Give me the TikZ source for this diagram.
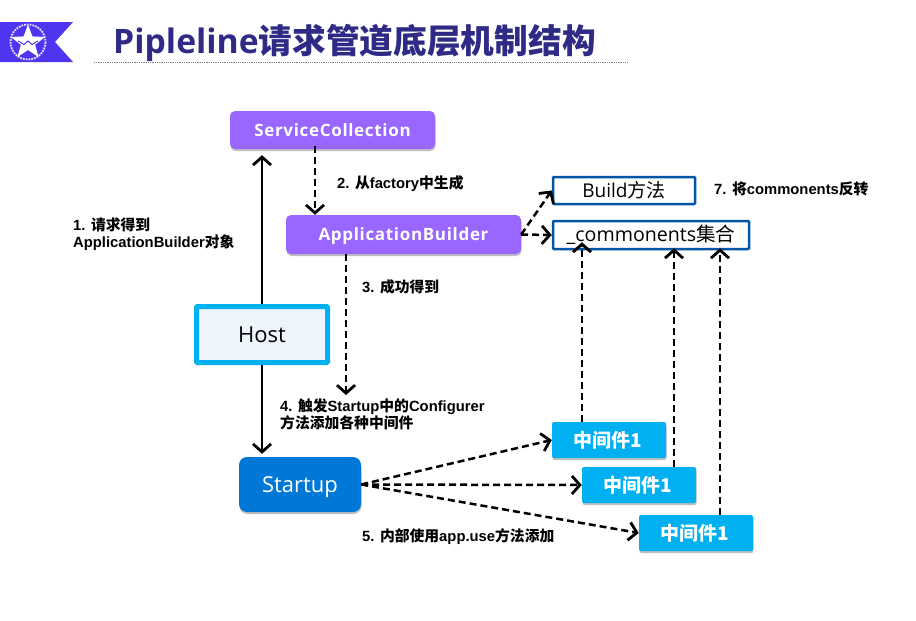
\documentclass[tikz,border=0pt]{standalone}
\usepackage{fontspec}
\setmainfont{Liberation Sans}
\newfontfamily\zhfont{Noto Sans CJK SC}
\newfontfamily\uifont{Open Sans}
\newfontfamily\spacedfont[LetterSpace=4]{Open Sans}
\usetikzlibrary{positioning,calc}
\usetikzlibrary{arrows.meta,shadows,shapes.geometric}

\definecolor{titleblue}{HTML}{2E2A86}
\definecolor{bannerpurple}{HTML}{4F35F0}
\definecolor{boxpurple}{HTML}{9966FF}
\definecolor{boxcyan}{HTML}{00B0F0}
\definecolor{boxblue}{HTML}{0078D7}
\definecolor{edgeblue}{HTML}{0055A5}
\definecolor{hostfill}{HTML}{EEF4FB}

\tikzset{
  softshadow/.style={drop shadow={shadow xshift=0.5pt,shadow yshift=-2pt,opacity=0.25,fill=black}},
  purplebox/.style={fill=boxpurple,rounded corners=5pt,softshadow,text=white,inner sep=0pt,
    text height=12.2pt,text depth=0pt,font=\spacedfont\bfseries\fontsize{17}{19}\selectfont},
  middlebox/.style={fill=boxcyan,rounded corners=2pt,softshadow,text=white,inner sep=0pt,
    minimum width=114pt,minimum height=36pt,font=\zhfont\bfseries\fontsize{19}{21}\selectfont},
  outlinebox/.style={draw=edgeblue,line width=2.5pt,fill=white,rounded corners=1pt,inner sep=0pt},
  steplabel/.style={anchor=west,align=left,inner sep=0pt,font=\bfseries\fontsize{14.8}{17}\selectfont},
  solidarrow/.style={line width=2.5pt,-{Straight Barb[length=8pt,width=18pt,line width=2.8pt]}},
  dasharrow/.style={solidarrow,dash pattern=on 7pt off 4pt}
}

\begin{document}
\begin{tikzpicture}[x=1pt,y=-1pt]
  \useasboundingbox (0,0) rectangle (916,621);

  % Banner with logo
  \fill[bannerpurple] (0,22) -- (73,22) -- (55,42) -- (73,62) -- (0,62) -- cycle;
  \draw[white!85!bannerpurple,line width=1.8pt,densely dotted] (28,42) circle (17.5);
  \node[star,star points=5,star point ratio=2.4,fill=white,minimum size=36pt,inner sep=0pt] (logostar) at (28,42.5) {};
  \draw[bannerpurple,line width=1pt] (18,41) -- (24,44.5) -- (28,41) -- (32,44.5) -- (38,41);

  % Title
  \node[anchor=west,inner sep=0pt,text=titleblue,font=\uifont\bfseries\fontsize{33.7}{38}\selectfont] (titletext) at (113,43)
    {Pipleline{\zhfont 请求管道底层机制结构}};
  \coordinate (ruleleft) at (94,62);
  \coordinate (ruleright) at (628,62);
  \draw[gray,densely dotted,line width=0.8pt] (ruleleft) -- (ruleright);

  % Boxes
  \node[purplebox,minimum width=205pt,minimum height=38pt] (collection) at (332.5,130) {ServiceCollection};
  \node[purplebox,minimum width=235pt,minimum height=39pt] (builder) at (403.5,234.5) {ApplicationBuilder};
  \node[outlinebox,minimum width=142pt,minimum height=27pt,font=\uifont\fontsize{19}{21}\selectfont] (buildm) at (624,190.5) {Build{\zhfont 方法}};
  \node[outlinebox,minimum width=196pt,minimum height=28pt,font=\uifont\fontsize{19.6}{21}\selectfont] (commonents) at (651,235) {\_commonents{\zhfont 集合}};
  \node[draw=boxcyan,line width=5pt,fill=hostfill,rounded corners=1pt,inner sep=0pt,minimum width=131pt,minimum height=56pt,
    text height=15.8pt,text depth=0pt,font=\uifont\fontsize{22}{24}\selectfont] (host) at (262,334.5) {Host};
  \node[fill=boxblue,rounded corners=8pt,softshadow,text=white,inner sep=0pt,minimum width=122pt,minimum height=55pt,
    text height=15.8pt,text depth=0pt,font=\uifont\fontsize{22}{24}\selectfont] (startup) at (300,484.5) {Startup};
  \node[middlebox] (middlea) at (609,440) {\hspace*{-3pt}中间件1};
  \node[middlebox] (middleb) at (639,485) {\hspace*{-3pt}中间件1};
  \node[middlebox] (middlec) at (696,533) {\hspace*{-3pt}中间件1};

  % Arrows
  \draw[solidarrow] (host.north) -- ($(host.north |- collection.south)+(0,6)$);
  \draw[solidarrow] (host.south) -- ($(host.south |- startup.north)+(0,-3)$);
  \draw[dasharrow] ([xshift=-17.5pt,yshift=3pt]collection.south) -- ([xshift=-88.5pt]builder.north);
  \coordinate (builderend) at (346,395);
  \draw[dasharrow] (builder.south -| builderend) -- (builderend);
  \draw[dasharrow] (builder.east) -- (buildm.west);
  \draw[dasharrow] (builder.east) -- (commonents.west);
  \draw[dasharrow] (startup.east) -- (middlea.west);
  \draw[dasharrow] (startup.east) -- (middleb.west);
  \draw[dasharrow] (startup.east) -- (middlec.west);
  \draw[dasharrow] ([xshift=-27pt]middlea.north) -- ([xshift=-69pt,yshift=8pt]commonents.south);
  \draw[dasharrow] ([xshift=35pt]middleb.north) -- ([xshift=23pt,yshift=2pt]commonents.south);
  \draw[dasharrow] ([xshift=24pt]middlec.north) -- ([xshift=69pt,yshift=2pt]commonents.south);

  % Labels
  \node[steplabel] (labela) at (73,234) {1. {\zhfont 请求得到}\\ApplicationBuilder{\zhfont 对象}};
  \node[steplabel] (labelb) at (337,184) {2. {\zhfont 从}factory{\zhfont 中生成}};
  \node[steplabel] (labelc) at (362,287) {3. {\zhfont 成功得到}};
  \node[steplabel] (labeld) at (280,414) {4. {\zhfont 触发}Startup{\zhfont 中的}Configurer\\{\zhfont 方法添加各种中间件}};
  \node[steplabel] (labele) at (362,537) {5. {\zhfont 内部使用}app.use{\zhfont 方法添加}};
  \node[steplabel] (labelf) at (714,189) {7. {\zhfont 将}commonents{\zhfont 反转}};
\end{tikzpicture}
\end{document}
